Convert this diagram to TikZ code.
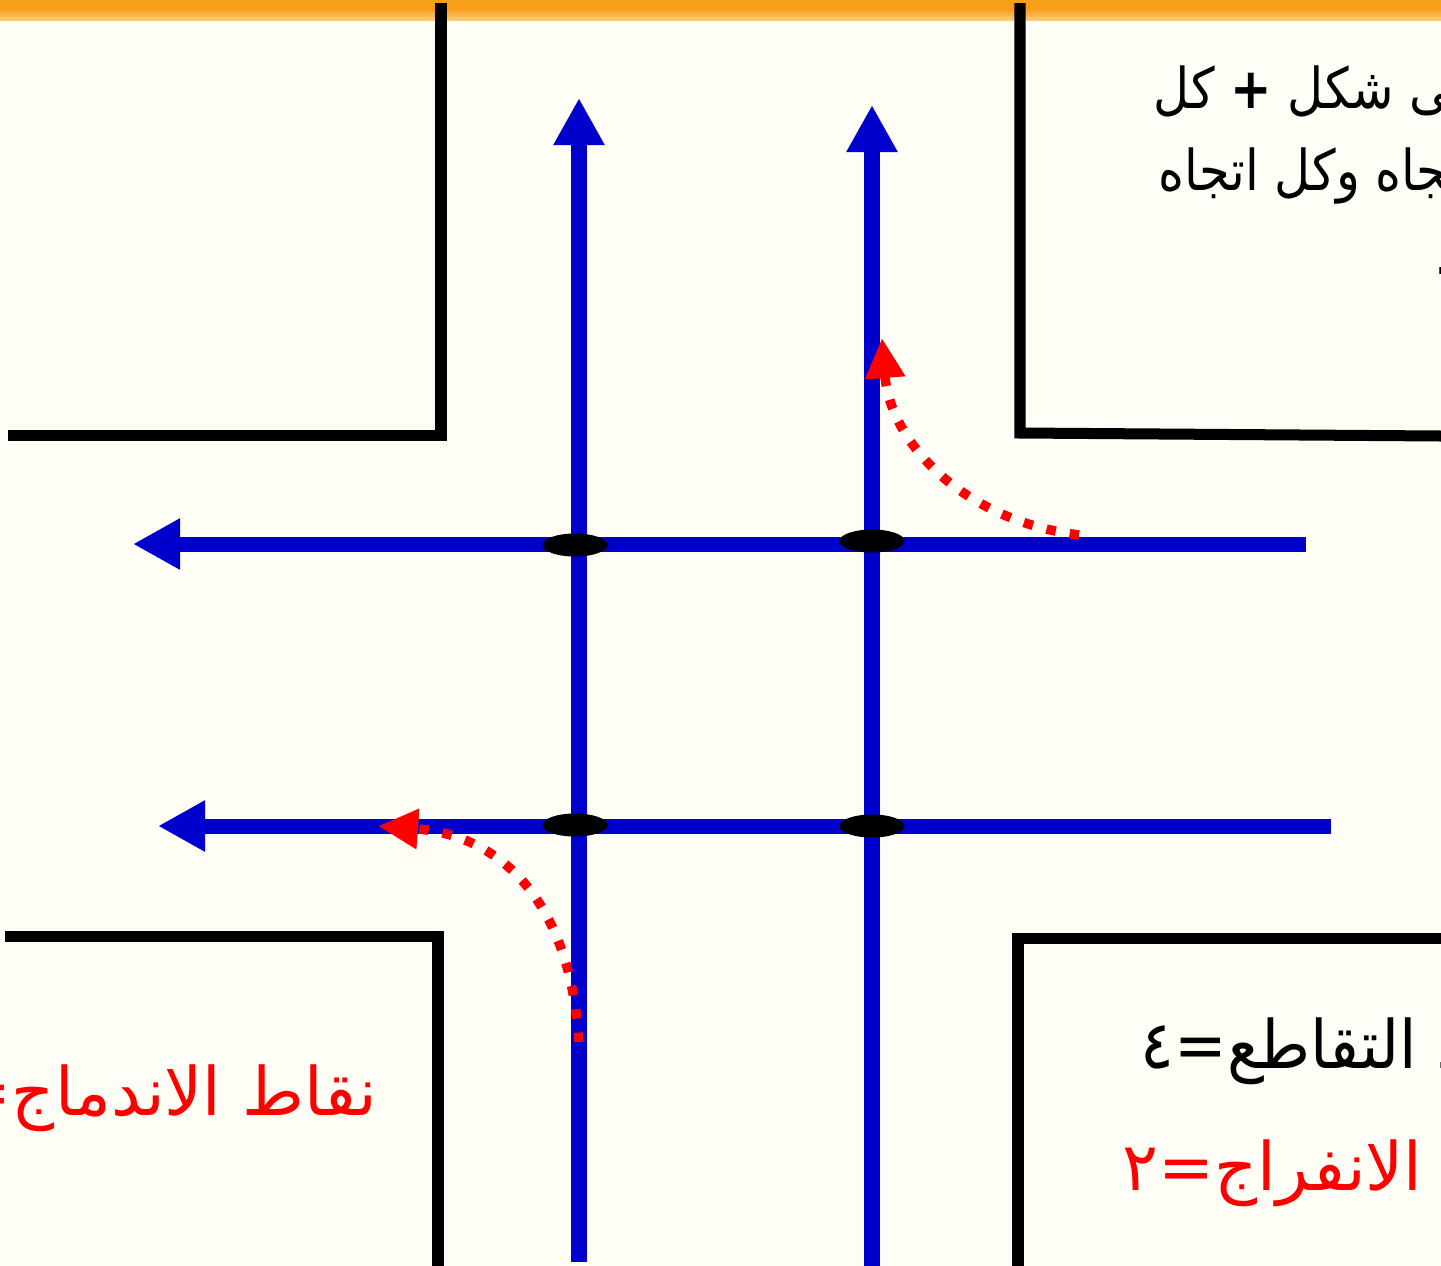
\documentclass[tikz,border=0pt]{standalone}
\usepackage{fontspec}
\newfontfamily\arabicfont[Script=Arabic]{DejaVu Sans}
\newfontfamily\arabicnarrow[Script=Arabic, FakeStretch=0.88]{DejaVu Sans}
\newfontfamily\arabicmid[Script=Arabic, FakeStretch=0.94]{DejaVu Sans}
\TeXXeTstate=1
\usepackage{tikz}
\usetikzlibrary{arrows.meta, positioning, shapes.geometric}
\definecolor{roadblue}{RGB}{0,0,204}
\definecolor{barorange}{RGB}{247,158,27}
\definecolor{paper}{RGB}{254,254,247}

\begin{document}
\begin{tikzpicture}[
	x=0.01cm, y=-0.01cm,
	wall/.style={line width=0.11cm, black},
	road/.style={line width=0.15cm, roadblue, -{Triangle[length=0.47cm, width=0.48cm]}},
	turn/.style={line width=0.095cm, red, dash pattern=on 2.7pt off 4pt,
		-{Triangle[length=0.4cm, width=0.38cm]}},
	crossing/.style={ellipse, fill=black, minimum width=0.65cm, minimum height=0.23cm, inner sep=0pt},
	txt/.style={font=\arabicfont\fontsize{19pt}{23pt}\selectfont, inner sep=0pt},
	midtxt/.style={font=\arabicmid\fontsize{19pt}{23pt}\selectfont, inner sep=0pt},
	smalltxt/.style={font=\arabicnarrow\fontsize{16pt}{20pt}\selectfont, inner sep=0pt}
	]
	
	% Fondo
	\useasboundingbox (0,0) rectangle (1441,1266);
	\clip (0,0) rectangle (1441,1266);
	\fill[paper] (0,0) rectangle (1441,1266);
	\fill[barorange] (0,0) rectangle (1441,9);
	\shade[top color=barorange, bottom color=barorange!55!white] (0,9) rectangle (1441,20);
	
	% Bordes de las manzanas
	\draw[wall] (441,3) -- (441,435) -- (8,435);
	\draw[wall] (1020,3) -- (1020,433) -- (1441,436);
	\draw[wall] (5,936) -- (438,936) -- (438,1266);
	\draw[wall] (1441,938) -- (1018,938) -- (1018,1266);
	
	% Extremos de las vias
	\coordinate (v1s) at (579,1262);
	\coordinate (v1e) at (579,98);
	\coordinate (v2s) at (872,1270);
	\coordinate (v2e) at (872,105);
	\coordinate (h1s) at (1306,544);
	\coordinate (h1e) at (133,544);
	\coordinate (h2s) at (1331,826);
	\coordinate (h2e) at (158,826);
	
	% Vias
	\draw[road] (v1s) -- (v1e);
	\draw[road] (v2s) -- (v2e);
	\draw[road] (h1s) -- (h1e);
	\draw[road] (h2s) -- (h2e);
	
	% Puntos de cruce
	\node[crossing] (c11) at (575,545) {};
	\node[crossing] (c12) at (872,541) {};
	\node[crossing] (c21) at (575,825) {};
	\node[crossing] (c22) at (872,826) {};
	
	% Giros
	\coordinate (m1s) at (579,1042);
	\coordinate (m1e) at (378,826);
	\coordinate (d1s) at (1079,535);
	\coordinate (d1e) at (882,338);
	\draw[turn] (m1s) .. controls (570,900) and (500,835) .. (m1e);
	\draw[turn] (d1s) .. controls (960,520) and (890,440) .. (d1e);
	
	% Textos
	\node[smalltxt, anchor=base west] (info1) at (1153,108) {\beginR على شكل {\bfseries +} كل\endR};
	\node[smalltxt, anchor=base west] (info2) at (1158,190) {\beginR اتجاه وكل اتجاه\endR};
	\node[smalltxt, anchor=base west] (info3) at (1434,274) {.};
	\node[midtxt, anchor=base west] (cross) at (1140,1068) {\beginR نقاط التقاطع=٤\endR};
	\node[txt, red, anchor=base west] (diverge) at (1122,1190) {\beginR نقاط الانفراج=٢\endR};
	\node[txt, red, anchor=base east] (merge) at (378,1115) {\beginR نقاط الاندماج=٢\endR};
	
\end{tikzpicture}
\end{document}
